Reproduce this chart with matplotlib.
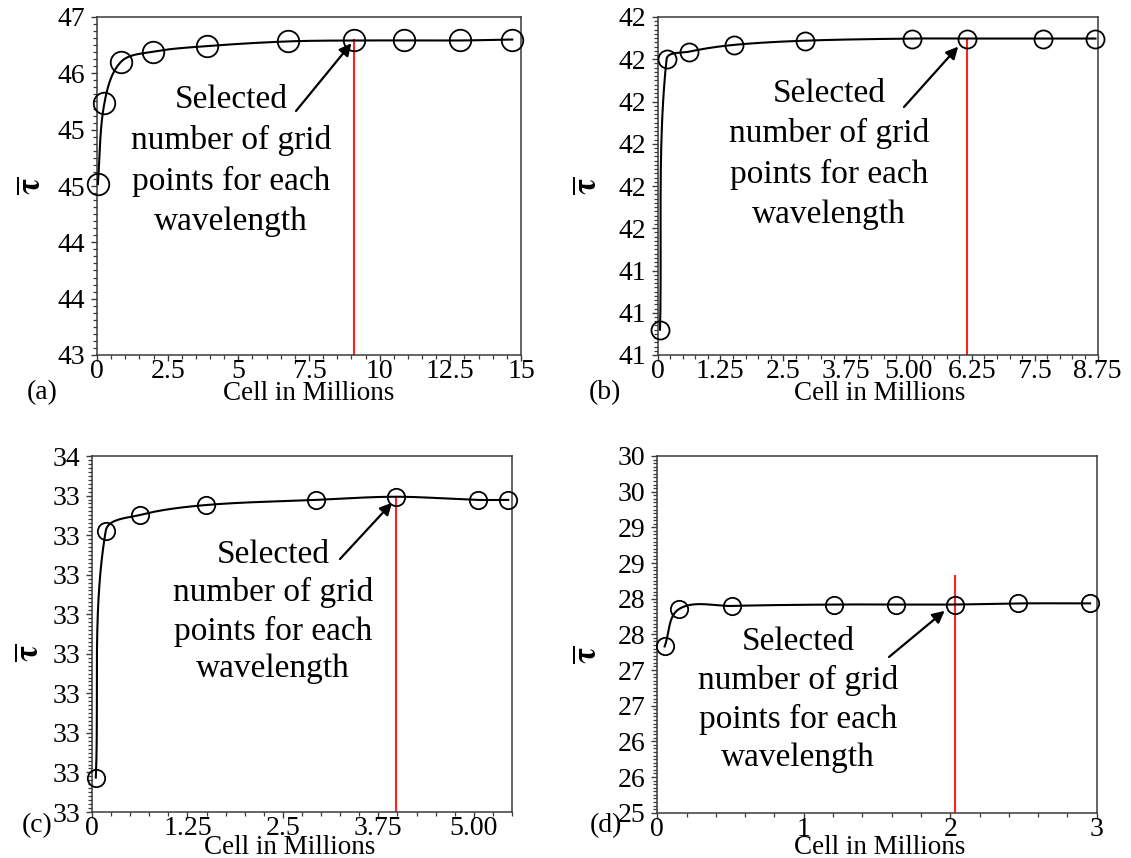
import numpy as np
import matplotlib
matplotlib.use("Agg")
import matplotlib.pyplot as plt
from matplotlib.ticker import AutoMinorLocator, FixedLocator, FixedFormatter

plt.rcParams['font.family'] = ['Liberation Serif', 'DejaVu Serif']
plt.rcParams['mathtext.fontset'] = 'stix'

# ---------------- data ----------------
# (a)
a_x = [0.03, 0.26, 0.84, 1.97, 3.89, 6.75, 9.10, 10.86, 12.85, 14.69]
a_y = [44.82, 45.68, 46.12, 46.23, 46.29, 46.34, 46.35, 46.35, 46.35, 46.36]
a_sel = 9.10
a_yticks = [43.0, 43.6, 44.2, 44.8, 45.4, 46.0, 46.6]
a_ylabels = ['43', '44', '44', '45', '45', '46', '47']
a_xticks = [0, 2.5, 5, 7.5, 10, 12.5, 15]
a_xlabels = ['0', '2.5', '5', '7.5', '10', '12.5', '15']

# (b)
b_x = [0.05, 0.18, 0.63, 1.52, 2.94, 5.06, 6.16, 7.67, 8.71]
b_y = [41.26, 41.90, 41.918, 41.934, 41.944, 41.949, 41.949, 41.949, 41.949]
b_sel = 6.16
b_yticks = [41.2, 41.3, 41.4, 41.5, 41.6, 41.7, 41.8, 41.9, 42.0]
b_ylabels = ['41', '41', '41', '42', '42', '42', '42', '42', '42']
b_xticks = [0, 1.25, 2.5, 3.75, 5.0, 6.25, 7.5, 8.75]
b_xlabels = ['0', '1.25', '2.5', '3.75', '5.00', '6.25', '7.5', '8.75']

# (c)
c_x = [0.05, 0.18, 0.63, 1.49, 2.93, 3.98, 5.05, 5.45]
c_y = [32.687, 33.311, 33.351, 33.376, 33.389, 33.397, 33.389, 33.389]
c_sel = 3.98
c_yticks = [32.6, 32.7, 32.8, 32.9, 33.0, 33.1, 33.2, 33.3, 33.4, 33.5]
c_ylabels = ['33'] * 9 + ['34']
c_xticks = [0, 1.25, 2.5, 3.75, 5.0]
c_xlabels = ['0', '1.25', '2.5', '3.75', '5.00']

# (d)
d_x = [0.05, 0.15, 0.51, 1.205, 1.63, 2.03, 2.46, 2.955]
d_y = [27.33, 27.857, 27.898, 27.918, 27.918, 27.918, 27.934, 27.934]
d_sel = 2.03
d_sel_top = 28.32
d_yticks = [25, 25.5, 26, 26.5, 27, 27.5, 28, 28.5, 29, 29.5, 30]
d_ylabels = ['25', '26', '26', '27', '27', '28', '28', '29', '29', '30', '30']
d_xticks = [0, 1, 2, 3]
d_xlabels = ['0', '1', '2', '3']

annot_text = "Selected\nnumber of grid\npoints for each\nwavelength"

W, H = 1131, 858
fig = plt.figure(figsize=(W / 100, H / 100), dpi=100)


def px_axes(l, t, r, b):
    return fig.add_axes([l / W, 1 - b / H, (r - l) / W, (b - t) / H])


def smooth(ax, xs, ys, n=40, k=0.33):
    """Smooth Bezier through the points (tangent length scaled by segment length)."""
    pts = ax.transData.transform(np.column_stack([xs, ys]))
    P = np.vstack([pts[0], pts, pts[-1]])
    out = []
    t = np.linspace(0, 1, n)[:, None]

    def unit(v):
        nv = np.hypot(*v)
        return v / nv if nv > 0 else v

    for i in range(1, len(P) - 2):
        p0, p1, p2, p3 = P[i - 1], P[i], P[i + 1], P[i + 2]
        L = np.hypot(*(p2 - p1))
        u1 = unit(p2 - p0)
        u2 = unit(p3 - p1)
        c1 = p1 + u1 * L * k
        c2 = p2 - u2 * L * k
        seg = (1 - t) ** 3 * p1 + 3 * (1 - t) ** 2 * t * c1 + 3 * (1 - t) * t ** 2 * c2 + t ** 3 * p2
        out.append(seg)
    curve = np.vstack(out)
    return ax.transData.inverted().transform(curve)


panels = [
    dict(box=(97, 17, 521, 355), x=a_x, y=a_y, sel=a_sel, seltop=None,
         xlim=(0, 15), ylim=(43.0, 46.6), yt=a_yticks, yl=a_ylabels, xt=a_xticks, xl=a_xlabels,
         yminor=8, xminor=5, ms=15.5, ls=1.41,
         text=(231, 161), tail=(296, 111), head=(9.0, 46.32),
         tag=(42, 393), xlab=(309, 394), ylab=(32, 186), name='(a)'),
    dict(box=(657.5, 17, 1097.5, 355), x=b_x, y=b_y, sel=b_sel, seltop=None,
         xlim=(0, 8.75), ylim=(41.2, 42.0), yt=b_yticks, yl=b_ylabels, xt=b_xticks, xl=b_xlabels,
         yminor=10, xminor=5, ms=13, ls=1.39,
         text=(829, 154), tail=(904, 107), head=(5.98, 41.93),
         tag=(605, 393), xlab=(880, 394), ylab=(588, 186), name='(b)'),
    dict(box=(92, 456, 512, 812), x=c_x, y=c_y, sel=c_sel, seltop=None,
         xlim=(0, 5.5), ylim=(32.6, 33.5), yt=c_yticks, yl=c_ylabels, xt=c_xticks, xl=c_xlabels,
         yminor=10, xminor=5, ms=12.5, ls=1.3,
         text=(273, 612), tail=(340, 559), head=(3.93, 33.382),
         tag=(37, 826), xlab=(290, 847), ylab=(30, 653), name='(c)'),
    dict(box=(657.3, 456, 1096.7, 812.7), x=d_x, y=d_y, sel=d_sel, seltop=d_sel_top,
         xlim=(0, 3), ylim=(25, 30), yt=d_yticks, yl=d_ylabels, xt=d_xticks, xl=d_xlabels,
         yminor=10, xminor=5, ms=12.5, ls=1.33,
         text=(798, 700), tail=(889, 657), head=(1.962, 27.83),
         tag=(606, 826), xlab=(880, 847), ylab=(588, 655), name='(d)'),
]

for p in panels:
    ax = px_axes(*p['box'])
    ax.set_xlim(*p['xlim'])
    ax.set_ylim(*p['ylim'])
    for s in ax.spines.values():
        s.set_color('#3a3a3a')
        s.set_linewidth(1.1)
    ax.yaxis.set_major_locator(FixedLocator(p['yt']))
    ax.yaxis.set_major_formatter(FixedFormatter(p['yl']))
    ax.xaxis.set_major_locator(FixedLocator(p['xt']))
    ax.xaxis.set_major_formatter(FixedFormatter(p['xl']))
    ax.yaxis.set_minor_locator(AutoMinorLocator(p['yminor']))
    ax.xaxis.set_minor_locator(AutoMinorLocator(p['xminor']))
    ax.tick_params(which='major', direction='out', length=4, width=1.0, color='#3a3a3a',
                   labelsize=20)
    ax.tick_params(axis='x', which='major', pad=-1)
    ax.tick_params(axis='y', which='major', pad=4.5)
    ax.tick_params(which='minor', direction='out', length=2.6, width=0.9, color='#3a3a3a')

    # selected line (red)
    ysel = p['seltop'] if p['seltop'] is not None else np.interp(p['sel'], p['x'], p['y'])
    ax.plot([p['sel'], p['sel']], [p['ylim'][0], ysel], color='#ff2020', lw=1.5, zorder=2)

    # smooth curve + markers
    cur = smooth(ax, p['x'], p['y'])
    ax.plot(cur[:, 0], cur[:, 1], color='black', lw=1.5, zorder=3, clip_on=False)
    ax.plot(p['x'], p['y'], linestyle='none', marker='o', ms=p['ms'], mfc='none',
            mec='black', mew=1.3, zorder=4, clip_on=False)

    # annotation
    ax.annotate('', xy=p['head'], xycoords='data',
                xytext=(p['tail'][0], H - p['tail'][1]), textcoords='figure pixels',
                arrowprops=dict(arrowstyle='-|>', color='black', lw=1.6, mutation_scale=18,
                                shrinkA=0, shrinkB=0), zorder=5)
    fig.text(p['text'][0] / W, 1 - p['text'][1] / H, annot_text, ha='center', va='center',
             fontsize=24, linespacing=p['ls'])

    fig.text(p['tag'][0] / W, 1 - p['tag'][1] / H, p['name'], ha='center', va='center', fontsize=20)
    fig.text(p['xlab'][0] / W, 1 - p['xlab'][1] / H, 'Cell in Millions', ha='center', va='center',
             fontsize=19.5)
    fig.text(p['ylab'][0] / W, 1 - p['ylab'][1] / H, r'$\overline{\mathbf{\tau}}$', ha='center',
             va='center', rotation=90, fontsize=24)

fig.savefig('out.png', dpi=100)
